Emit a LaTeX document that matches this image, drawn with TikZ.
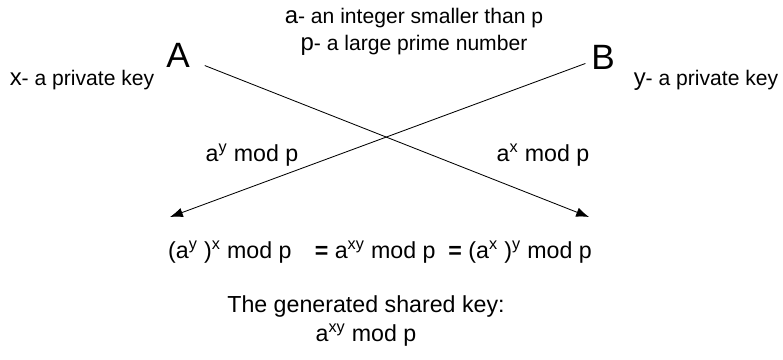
\documentclass[tikz,border=0pt]{standalone}
\usepackage{fontspec}
\setmainfont{Liberation Sans}
\usetikzlibrary{arrows.meta}

\newcommand{\bigvar}[1]{{\fontsize{17}{18}\selectfont #1}}

\begin{document}
\begin{tikzpicture}[x=0.025cm, y=-0.025cm,
			party/.style={inner sep=4pt, font=\fontsize{25}{27}\selectfont},
			lbl/.style={inner sep=1pt, font=\fontsize{15}{18}\selectfont},
			msg/.style={inner sep=1pt, align=center, font=\fontsize{16.5}{20}\selectfont},
			arrow/.style={semithick, -{Latex[length=3.2mm, width=2.4mm]}},
		]
		\useasboundingbox (0,0) rectangle (783,360);

		% --- Nodes ---
		\node (A) [party] at (178,55) {A};
		\node (B) [party] at (603,57) {B};
		\node (keyx) [lbl] at (82,80)  {\bigvar{x}- a private key};
		\node (keyy) [lbl] at (706,80) {\bigvar{y}- a private key};
		\node (base)  [lbl] at (414,18) {\bigvar{a}- an integer smaller than p};
		\node (prime) [lbl] at (414,45) {\bigvar{p}- a large prime number};
		\node (msgy) [msg] at (252,155) {a\textsuperscript{y} mod p};
		\node (msgx) [msg] at (543,155) {a\textsuperscript{x} mod p};
		\node (eq) [msg] at (380,252)
			{(a\textsuperscript{y} )\textsuperscript{x} mod p\quad\textbf{=} a\textsuperscript{xy} mod p\ \ \textbf{=} (a\textsuperscript{x} )\textsuperscript{y} mod p};
		\node (shared) [msg] at (366,321) {The generated shared key:\\a\textsuperscript{xy} mod p};

		\coordinate (tipA) at (589,217);
		\coordinate (tipB) at (170,217);

		% --- Exchange ---
		\draw [arrow, shorten <=7pt] (A) -- (tipA);
		\draw [arrow] (B) -- (tipB);

	\end{tikzpicture}
\end{document}
